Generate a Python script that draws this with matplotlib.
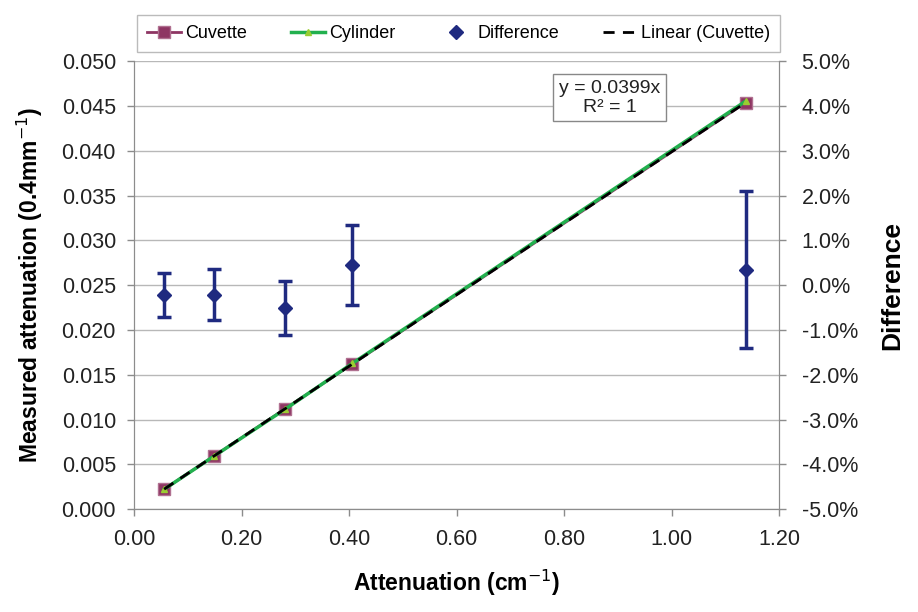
import matplotlib
matplotlib.use('Agg')
import matplotlib.pyplot as plt
import numpy as np
from matplotlib.ticker import FuncFormatter, MultipleLocator

plt.rcParams['font.family'] = ['Liberation Sans', 'DejaVu Sans']

# data
attenuation = [0.056, 0.149, 0.281, 0.406, 1.137]          # cm^-1
cuvette = [0.00223, 0.00594, 0.01121, 0.01620, 0.04537]     # 0.4mm^-1
cylinder = [0.00222, 0.00593, 0.01116, 0.01627, 0.04553]
difference = [-0.22, -0.21, -0.51, 0.45, 0.35]               # percent
diff_err = [0.50, 0.57, 0.61, 0.89, 1.76]
slope = 0.0399

MAROON = '#8E3563'
GREEN = '#22B04E'
TRI = '#9ACD32'
NAVY = '#1F2A80'
GRID = '#B8B8B8'

fig = plt.figure(figsize=(9.18, 6.12), dpi=100)
ax = fig.add_axes([0.146, 0.168, 0.703, 0.732])
ax2 = ax.twinx()

# gridlines
ax.set_axisbelow(True)
ax.yaxis.grid(True, color=GRID, linewidth=1)

x = np.array(attenuation)
l1, = ax.plot(x, cuvette, color=MAROON, marker='s', markersize=9,
              markerfacecolor=MAROON, markeredgecolor='#B07090', linewidth=2, zorder=3)
l2, = ax.plot(x, cylinder, color=GREEN, marker='^', markersize=5,
              markerfacecolor=TRI, markeredgecolor=TRI, linewidth=2.5, zorder=4)
xs = np.array([x[0], x[-1]])
l4, = ax.plot(xs, slope * xs, color='black', linestyle=(0, (4, 3)), linewidth=2, zorder=5)

eb = ax2.errorbar(x, difference, yerr=diff_err, fmt='D', color=NAVY, markersize=7,
                  elinewidth=2.5, capsize=5, capthick=2.5, zorder=3)

ax.text(0.884, 0.0459, 'y = 0.0399x\nR² = 1', ha='center', va='center',
        fontsize=14, color='#222222', linespacing=1.1,
        bbox=dict(boxstyle='square,pad=0.3', facecolor='white', edgecolor='#888888'))

ax.set_xlim(0, 1.2)
ax.set_ylim(0, 0.05)
ax2.set_ylim(-5, 5)
ax.xaxis.set_major_locator(MultipleLocator(0.2))
ax.yaxis.set_major_locator(MultipleLocator(0.005))
ax2.yaxis.set_major_locator(MultipleLocator(1))
ax.xaxis.set_major_formatter(FuncFormatter(lambda v, p: f'{v:.2f}'))
ax.yaxis.set_major_formatter(FuncFormatter(lambda v, p: f'{v:.3f}'))
ax2.yaxis.set_major_formatter(FuncFormatter(lambda v, p: f'{v:.1f}%'))

for a in (ax, ax2):
    for s in a.spines.values():
        s.set_color('#8C8C8C')
    a.spines['top'].set_visible(False)
    a.tick_params(labelsize=15.5, color='#8C8C8C', length=5, width=1, labelcolor='#222222')
ax.tick_params(axis='y', pad=8)
ax.tick_params(axis='x', pad=9)
ax2.tick_params(axis='y', pad=11)

ax.set_xlabel('Attenuation (cm$^{-1}$)', fontsize=16.5, fontweight='bold', labelpad=13)
ax.set_ylabel('Measured attenuation (0.4mm$^{-1}$)', fontsize=16.5, fontweight='bold', labelpad=12)
ax2.set_ylabel('Difference', fontsize=19, fontweight='bold', labelpad=16)

# legend spread across the top, like the Excel original
leg = fig.legend([l1, l2, eb.lines[0], l4],
                 ['Cuvette', 'Cylinder', 'Difference', 'Linear (Cuvette)'],
                 loc='lower left', bbox_to_anchor=(0.1492, 0.915, 0.7004, 0.06),
                 mode='expand', borderaxespad=0, ncol=4, fontsize=13,
                 frameon=True, fancybox=False, edgecolor='#AAAAAA',
                 handlelength=1.9, handletextpad=0.2, borderpad=0.55)

fig.savefig('out.png', dpi=100)
